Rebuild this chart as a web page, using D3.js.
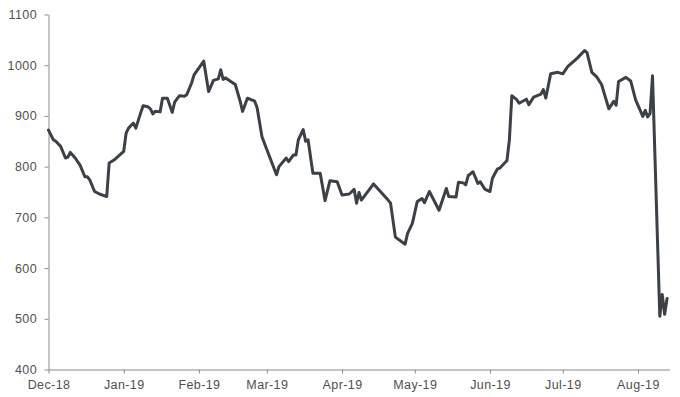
<!DOCTYPE html>
<html>
<head>
<meta charset="utf-8">
<script src="https://cdn.jsdelivr.net/npm/d3@7"></script>
<style>
  body { margin: 0; background: #fff; }
  #chart text { font-family: "Liberation Sans", Arial, sans-serif; }
</style>
</head>
<body>
<div id="chart"></div>
<script>
// values (turning points of the line)
var dates = [
  '2018-12-01','2018-12-03','2018-12-04','2018-12-06','2018-12-08','2018-12-09','2018-12-10','2018-12-12',
  '2018-12-14','2018-12-16','2018-12-17','2018-12-18','2018-12-20','2018-12-22','2018-12-25','2018-12-26',
  '2018-12-28','2019-01-01','2019-01-02','2019-01-03','2019-01-05','2019-01-06','2019-01-08','2019-01-09',
  '2019-01-11','2019-01-12','2019-01-13','2019-01-14','2019-01-16','2019-01-17','2019-01-19','2019-01-21',
  '2019-01-22','2019-01-24','2019-01-26','2019-01-27','2019-01-29','2019-01-30','2019-02-03','2019-02-05',
  '2019-02-07','2019-02-09','2019-02-10','2019-02-11','2019-02-12','2019-02-16','2019-02-18','2019-02-19',
  '2019-02-21','2019-02-24','2019-02-25','2019-02-27','2019-02-28','2019-03-05','2019-03-06','2019-03-09',
  '2019-03-10','2019-03-12','2019-03-13','2019-03-14','2019-03-16','2019-03-17','2019-03-18','2019-03-20',
  '2019-03-23','2019-03-25','2019-03-27','2019-03-30','2019-04-01','2019-04-04','2019-04-06','2019-04-07',
  '2019-04-08','2019-04-09','2019-04-14','2019-04-20','2019-04-21','2019-04-23','2019-04-27','2019-04-28',
  '2019-04-30','2019-05-02','2019-05-04','2019-05-05','2019-05-07','2019-05-11','2019-05-14','2019-05-15',
  '2019-05-18','2019-05-19','2019-05-21','2019-05-22','2019-05-23','2019-05-25','2019-05-27','2019-05-28',
  '2019-05-30','2019-06-01','2019-06-02','2019-06-04','2019-06-05','2019-06-08','2019-06-09','2019-06-10',
  '2019-06-12','2019-06-13','2019-06-16','2019-06-17','2019-06-19','2019-06-22','2019-06-23','2019-06-24',
  '2019-06-26','2019-06-29','2019-07-01','2019-07-03','2019-07-07','2019-07-10','2019-07-11','2019-07-13',
  '2019-07-15','2019-07-17','2019-07-20','2019-07-22','2019-07-23','2019-07-24','2019-07-27','2019-07-29',
  '2019-07-31','2019-08-03','2019-08-04','2019-08-05','2019-08-06','2019-08-07','2019-08-10','2019-08-11',
  '2019-08-12','2019-08-13'
]
var values = [
  872, 853, 850, 840, 817, 819, 828, 817,
  803, 780, 780, 774, 751, 746, 741, 807,
  813, 830, 866, 876, 886, 876, 906, 920,
  918, 914, 904, 909, 908, 935, 935, 907,
  927, 940, 939, 942, 965, 981, 1008, 948,
  970, 973, 991, 972, 975, 962, 929, 909,
  935, 929, 916, 859, 846, 784, 800, 817,
  810, 823, 823, 853, 873, 850, 853, 787,
  787, 733, 772, 770, 744, 746, 755, 728,
  749, 734, 766, 734, 728, 661, 647, 668,
  688, 731, 737, 729, 751, 714, 757, 741,
  740, 769, 768, 764, 782, 790, 767, 770,
  755, 751, 777, 795, 797, 812, 853, 940,
  932, 925, 933, 922, 937, 943, 952, 935,
  983, 986, 983, 997, 1014, 1029, 1025, 986,
  977, 962, 914, 929, 921, 968, 976, 969,
  932, 899, 911, 898, 905, 979, 505, 548,
  509, 540
]
var yTicks = [400, 500, 600, 700, 800, 900, 1000, 1100]
var xTicks = ['2018-12-01','2019-01-01','2019-02-01','2019-03-01','2019-04-01',
              '2019-05-01','2019-06-01','2019-07-01','2019-08-01']
var xStart = '2018-12-01', xEnd = '2019-08-14'

var width = 680, height = 397
var x0 = 48.5, x1 = 669.5, yTop = 14.5, yBottom = 369.5
var axisColor = '#8c8c8c', textColor = '#505050', lineColor = '#3b4147'

var parse = d3.utcParse('%Y-%m-%d')
var data = dates.map((d, i) => ({ date: parse(d), value: values[i] }))

var svg = d3.select('#chart').append('svg').attr('width', width).attr('height', height)

var x = d3.scaleUtc().domain([parse(xStart), parse(xEnd)]).range([x0, x1])
var y = d3.scaleLinear().domain([400, 1100]).range([yBottom, yTop])

// y axis
svg.append('g')
  .attr('transform', 'translate(' + x0 + ',0)')
  .call(d3.axisLeft(y).tickValues(yTicks).tickFormat(d3.format('d'))
    .tickSize(4).tickSizeOuter(0).tickPadding(7.5))
// x axis
svg.append('g')
  .attr('transform', 'translate(0,' + yBottom + ')')
  .call(d3.axisBottom(x).tickValues(xTicks.map(parse)).tickFormat(d3.utcFormat('%b-%y'))
    .tickSize(4).tickSizeOuter(0).tickPadding(6.5))

svg.selectAll('.domain, .tick line').attr('stroke', axisColor)
svg.selectAll('.tick text')
  .attr('fill', textColor)
  .attr('font-size', 12.5)
  .style('letter-spacing', '0.4px')

var line = d3.line().x(d => x(d.date)).y(d => y(d.value))

svg.append('path')
  .datum(data)
  .attr('d', line)
  .attr('fill', 'none')
  .attr('stroke', lineColor)
  .attr('stroke-width', 3)
  .attr('stroke-linejoin', 'round')
  .attr('stroke-linecap', 'round')
</script>
</body>
</html>
